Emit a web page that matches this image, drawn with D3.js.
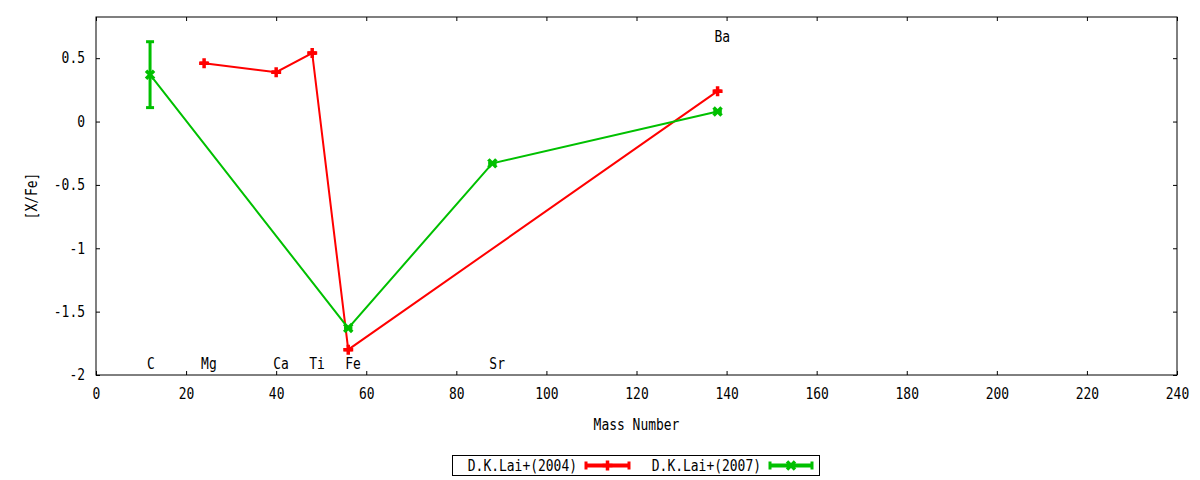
<!DOCTYPE html>
<html>
<head>
<meta charset="utf-8">
<script src="https://cdn.jsdelivr.net/npm/d3@7.9.0/dist/d3.min.js"></script>
<style>
  body { margin: 0; background: #fff; }
  svg { display: block; font-family: 'DejaVu Sans Mono', monospace; font-size: 15px; }
  .axis path { display: none; }
  .axis line { stroke: #000; }
  .axis text { fill: #000; font-family: 'DejaVu Sans Mono', monospace; font-size: 15px; }
</style>
</head>
<body>
<div id="chart"></div>
<script>
// element labels and their mass numbers
const elements = ['C', 'Mg', 'Ca', 'Ti', 'Fe', 'Sr', 'Ba'];
const elementMass = [12, 24, 40, 48, 56, 88, 138];
const elementLabelY = [-1.91, -1.91, -1.91, -1.91, -1.91, -1.91, 0.67];

// D.K.Lai+(2004)
const lai2004Mass = [24, 40, 48, 56, 138];
const lai2004Value = [0.46, 0.39, 0.54, -1.80, 0.24];
const lai2004Err = [0, 0, 0, 0, 0];

// D.K.Lai+(2007)
const lai2007Mass = [12, 56, 88, 138];
const lai2007Value = [0.37, -1.63, -0.33, 0.08];
const lai2007Err = [0.26, 0, 0, 0];

const xTicks = [0, 20, 40, 60, 80, 100, 120, 140, 160, 180, 200, 220, 240];
const yTicks = [-2, -1.5, -1, -0.5, 0, 0.5];

const width = 1200;
const height = 480;
const margin = { top: 17, right: 23, bottom: 105, left: 96 };
const charWidth = 7.8; // narrow gnuplot-like mono text

const svg = d3.select('#chart')
  .append('svg')
  .attr('width', width)
  .attr('height', height);

const xScale = d3.scaleLinear()
  .domain([0, 240])
  .range([margin.left, width - margin.right]);

const yScale = d3.scaleLinear()
  .domain([-2, 0.825])
  .range([height - margin.bottom, margin.top]);

const fmt = d => (d === 0 ? '0' : String(d));

// axes, gnuplot style: ticks inward on all four sides
svg.append('g')
  .attr('class', 'axis')
  .attr('transform', `translate(0, ${yScale.range()[0]})`)
  .call(d3.axisBottom(xScale).tickValues(xTicks).tickFormat(fmt).tickSize(-4).tickPadding(13));

svg.append('g')
  .attr('class', 'axis')
  .attr('transform', `translate(0, ${yScale.range()[1]})`)
  .call(d3.axisTop(xScale).tickValues(xTicks).tickFormat('').tickSize(-4));

svg.append('g')
  .attr('class', 'axis')
  .attr('transform', `translate(${xScale.range()[0]}, 0)`)
  .call(d3.axisLeft(yScale).tickValues(yTicks).tickFormat(fmt).tickSize(-4).tickPadding(11));

svg.append('g')
  .attr('class', 'axis')
  .attr('transform', `translate(${xScale.range()[1]}, 0)`)
  .call(d3.axisRight(yScale).tickValues(yTicks).tickFormat('').tickSize(-4));

svg.append('rect')
  .attr('x', xScale.range()[0])
  .attr('y', yScale.range()[1])
  .attr('width', xScale.range()[1] - xScale.range()[0])
  .attr('height', yScale.range()[0] - yScale.range()[1])
  .attr('fill', 'none')
  .attr('stroke', '#000')
  .attr('stroke-width', 1);

// axis titles
svg.append('text')
  .attr('x', (xScale.range()[0] + xScale.range()[1]) / 2)
  .attr('y', 430)
  .attr('text-anchor', 'middle')
  .text('Mass Number');

svg.append('text')
  .attr('transform', `translate(37, ${(yScale.range()[0] + yScale.range()[1]) / 2}) rotate(-90)`)
  .attr('text-anchor', 'middle')
  .text('[X/Fe]');

// element labels
svg.append('g')
  .selectAll('text')
  .data(elements)
  .join('text')
  .attr('x', (d, i) => xScale(elementMass[i]) - 3)
  .attr('y', (d, i) => yScale(elementLabelY[i]))
  .attr('dy', '0.35em')
  .text(d => d);

const line = d3.line()
  .x(d => xScale(d.mass))
  .y(d => yScale(d.value));

function plusPath(s) {
  return `M${-s},0H${s}M0,${-s}V${s}`;
}
function crossPath(s) {
  return `M${-s},${-s}L${s},${s}M${-s},${s}L${s},${-s}`;
}

function drawSeries(mass, value, err, color, marker) {
  const pts = mass.map((m, i) => ({ mass: m, value: value[i], err: err[i] }));
  const g = svg.append('g');

  g.append('path')
    .datum(pts)
    .attr('d', line)
    .attr('fill', 'none')
    .attr('stroke', color)
    .attr('stroke-width', 2);

  // error bars
  const eb = g.selectAll('.err')
    .data(pts)
    .join('g')
    .attr('class', 'err')
    .attr('stroke', color)
    .attr('stroke-width', 3);
  eb.append('line')
    .attr('x1', d => xScale(d.mass))
    .attr('x2', d => xScale(d.mass))
    .attr('y1', d => yScale(d.value - d.err))
    .attr('y2', d => yScale(d.value + d.err));
  eb.append('line')
    .attr('x1', d => xScale(d.mass) - 4)
    .attr('x2', d => xScale(d.mass) + 4)
    .attr('y1', d => yScale(d.value - d.err))
    .attr('y2', d => yScale(d.value - d.err));
  eb.append('line')
    .attr('x1', d => xScale(d.mass) - 4)
    .attr('x2', d => xScale(d.mass) + 4)
    .attr('y1', d => yScale(d.value + d.err))
    .attr('y2', d => yScale(d.value + d.err));

  // point markers
  g.selectAll('.pt')
    .data(pts)
    .join('path')
    .attr('class', 'pt')
    .attr('transform', d => `translate(${xScale(d.mass)}, ${yScale(d.value)})`)
    .attr('d', marker)
    .attr('fill', 'none')
    .attr('stroke', color)
    .attr('stroke-width', 3.5);
}

drawSeries(lai2004Mass, lai2004Value, lai2004Err, '#ff0000', plusPath(5));
drawSeries(lai2007Mass, lai2007Value, lai2007Err, '#00c000', crossPath(4));

// legend
const legend = svg.append('g');
legend.append('rect')
  .attr('x', 452.5)
  .attr('y', 455.5)
  .attr('width', 367)
  .attr('height', 20)
  .attr('fill', 'none')
  .attr('stroke', '#000');

const legendItems = [
  { label: 'D.K.Lai+(2004)', color: '#ff0000', marker: plusPath(5), textX: 577, x0: 586, x1: 629 },
  { label: 'D.K.Lai+(2007)', color: '#00c000', marker: crossPath(4), textX: 761, x0: 770, x1: 812 },
];
const ly = 465.5;
legendItems.forEach(it => {
  legend.append('text')
    .attr('x', it.textX)
    .attr('y', ly)
    .attr('dy', '0.35em')
    .attr('text-anchor', 'end')
    .text(it.label);
  const s = legend.append('g').attr('stroke', it.color);
  s.append('line').attr('x1', it.x0).attr('x2', it.x1).attr('y1', ly).attr('y2', ly).attr('stroke-width', 4);
  s.append('line').attr('x1', it.x0).attr('x2', it.x0).attr('y1', ly - 4).attr('y2', ly + 4).attr('stroke-width', 3);
  s.append('line').attr('x1', it.x1).attr('x2', it.x1).attr('y1', ly - 4).attr('y2', ly + 4).attr('stroke-width', 3);
  s.append('path')
    .attr('transform', `translate(${(it.x0 + it.x1) / 2}, ${ly})`)
    .attr('d', it.marker)
    .attr('fill', 'none')
    .attr('stroke-width', 3.5);
});

// squeeze every label to the narrow advance of the original mono font
svg.selectAll('text').each(function () {
  const n = this.textContent.length;
  if (n > 0) {
    d3.select(this)
      .attr('textLength', n * charWidth)
      .attr('lengthAdjust', 'spacingAndGlyphs');
  }
});
</script>
</body>
</html>
